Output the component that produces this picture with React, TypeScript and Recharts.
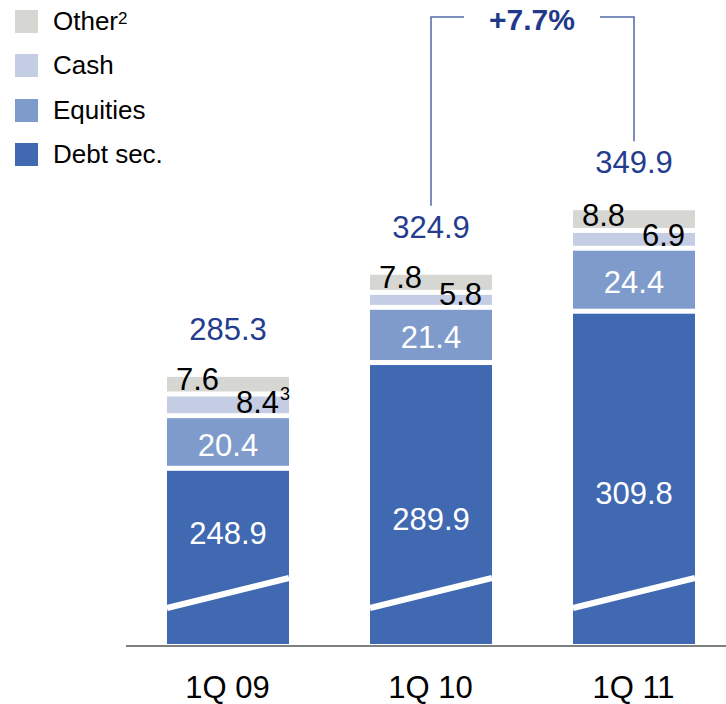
import React from 'react';
import { BarChart, Bar, XAxis, YAxis, Legend } from 'recharts';

const categories = ['1Q 09', '1Q 10', '1Q 11'];
const debtSec = [248.9, 289.9, 309.8];
const equities = [20.4, 21.4, 24.4];
const cash = [8.4, 5.8, 6.9];
const other = [7.6, 7.8, 8.8];
const cashNotes = ['3', '', ''];
const legendItems = [
  { label: 'Other', note: '2', key: 'other' },
  { label: 'Cash', note: '', key: 'cash' },
  { label: 'Equities', note: '', key: 'equities' },
  { label: 'Debt sec.', note: '', key: 'debt' },
];

const AXIS_BREAK = 181;
const debtLabelFrac = [0.36, 0.55, 0.54];

const COLORS: Record<string, string> = {
  debt: '#4169B2',
  equities: '#7F9BCB',
  cash: '#C4CDE3',
  other: '#D6D7D3',
};
const NAVY = '#243C8E';
const FONT = '"Liberation Sans", Arial, sans-serif';
const GAP = 5;
const FS = 31;

const totals = categories.map((_, i) => +(debtSec[i] + equities[i] + cash[i] + other[i]).toFixed(1));
const growth = ((totals[2] / totals[1] - 1) * 100).toFixed(1);

const data = categories.map((c, i) => ({
  cat: c,
  debtShown: debtSec[i] - AXIS_BREAK,
  equities: equities[i],
  cash: cash[i],
  other: other[i],
}));

const DebtShape = (p: any) => {
  const { x, y, width, height, index } = p;
  const bottom = y + height - 2;
  return (
    <g>
      <rect x={x} y={y} width={width} height={Math.max(0, height - 2)} fill={COLORS.debt} />
      <line x1={x} y1={bottom - 36} x2={x + width} y2={bottom - 66} stroke="#fff" strokeWidth={6} />
      <text
        x={x + width / 2}
        y={y + height * debtLabelFrac[index]}
        textAnchor="middle"
        dominantBaseline="central"
        fill="#fff"
        fontSize={FS}
        fontFamily={FONT}
      >
        {debtSec[index].toFixed(1)}
      </text>
    </g>
  );
};

const EqShape = (p: any) => {
  const { x, y, width, height, index } = p;
  const h = Math.max(0, height - GAP);
  return (
    <g>
      <rect x={x} y={y} width={width} height={h} fill={COLORS.equities} />
      <text
        x={x + width / 2}
        y={y + h / 2 + 3}
        textAnchor="middle"
        dominantBaseline="central"
        fill="#fff"
        fontSize={FS}
        fontFamily={FONT}
      >
        {equities[index].toFixed(1)}
      </text>
    </g>
  );
};

const CashShape = (p: any) => {
  const { x, y, width, height } = p;
  return <rect x={x} y={y} width={width} height={Math.max(0, height - GAP)} fill={COLORS.cash} />;
};

const OtherShape = (p: any) => {
  const { x, y, width, height, index } = p;
  const k = height / other[index];
  const cashH = cash[index] * k;
  const cashBase = y + height + cashH - GAP;
  const cx = x + width / 2;
  const totalBase = y - 37;
  const lineBottom = totalBase - 32;
  return (
    <g>
      <rect x={x} y={y} width={width} height={Math.max(0, height - GAP)} fill={COLORS.other} />
      <text x={x + 9} y={y + height - 7} fill="#000" fontSize={FS} fontFamily={FONT}>
        {other[index].toFixed(1)}
      </text>
      <text x={x + width - 10} y={cashBase} textAnchor="end" fill="#000" fontSize={FS} fontFamily={FONT}>
        {cash[index].toFixed(1)}
      </text>
      {cashNotes[index] ? (
        <text x={x + width - 9} y={cashBase - 13} fill="#000" fontSize={18} fontFamily={FONT}>
          {cashNotes[index]}
        </text>
      ) : null}
      <text x={cx} y={totalBase} textAnchor="middle" fill={NAVY} fontSize={FS} fontFamily={FONT}>
        {totals[index].toFixed(1)}
      </text>
      {index === 1 ? (
        <path d={`M${cx},${lineBottom} V17 H${cx + 33}`} fill="none" stroke="#5069A5" strokeWidth={1.5} />
      ) : null}
      {index === 2 ? (
        <g>
          <path d={`M${cx},${lineBottom} V17 H${cx - 34}`} fill="none" stroke="#5069A5" strokeWidth={1.5} />
          <text
            x={cx - 102}
            y={30}
            textAnchor="middle"
            fill="#1F3A8A"
            fontSize={30}
            fontWeight="bold"
            fontFamily={FONT}
          >
            {`+${growth}%`}
          </text>
        </g>
      ) : null}
    </g>
  );
};

const LegendContent = () => (
  <div style={{ position: 'relative', width: 200, height: 180, fontFamily: FONT }}>
    {legendItems.map((it, i) => (
      <div key={it.key} style={{ position: 'absolute', left: 15, top: 10 + i * 44.3, height: 24 }}>
        <div style={{ position: 'absolute', left: 0, top: 0, width: 23, height: 23, background: COLORS[it.key] }} />
        <div
          style={{
            position: 'absolute',
            left: 38,
            top: -4,
            fontSize: 26,
            lineHeight: '30px',
            whiteSpace: 'nowrap',
            color: '#000',
          }}
        >
          {it.label}
          {it.note ? <sup style={{ fontSize: 17, verticalAlign: 'top', position: 'relative', top: -2 }}>{it.note}</sup> : null}
        </div>
      </div>
    ))}
  </div>
);

const Tick = (p: any) => {
  const { x, y, payload } = p;
  return (
    <text x={x} y={y} dy={52} textAnchor="middle" fill="#000" fontSize={FS} fontFamily={FONT}>
      {payload.value}
    </text>
  );
};

export default function App() {
  return (
    <div style={{ position: 'absolute', left: 0, top: 0, width: 726, height: 704, overflow: 'hidden', background: '#fff' }}>
      <BarChart
        width={735}
        height={704}
        data={data}
        margin={{ top: 130, right: 0, bottom: 0, left: 126 }}
        barSize={122}
      >
        <XAxis
          dataKey="cat"
          axisLine={{ stroke: '#808080', strokeWidth: 2 }}
          tickLine={false}
          tickSize={0}
          tickMargin={0}
          height={58}
          tick={<Tick />}
          interval={0}
        />
        <YAxis hide domain={[0, 200]} />
        <Legend
          layout="vertical"
          align="center"
          verticalAlign="middle"
          content={<LegendContent />}
          wrapperStyle={{ position: 'absolute', top: 0, left: 0, width: 200, height: 180 }}
        />
        <Bar dataKey="debtShown" stackId="s" fill={COLORS.debt} shape={<DebtShape />} isAnimationActive={false} />
        <Bar dataKey="equities" stackId="s" fill={COLORS.equities} shape={<EqShape />} isAnimationActive={false} />
        <Bar dataKey="cash" stackId="s" fill={COLORS.cash} shape={<CashShape />} isAnimationActive={false} />
        <Bar dataKey="other" stackId="s" fill={COLORS.other} shape={<OtherShape />} isAnimationActive={false} />
      </BarChart>
    </div>
  );
}
